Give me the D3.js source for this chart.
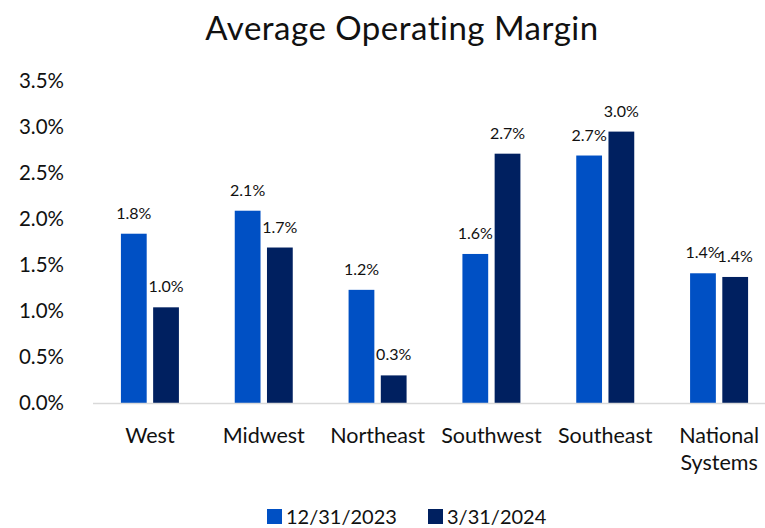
<!DOCTYPE html>
<head>
  <meta charset="utf-8">
  <style>
    body { margin: 0; background: #fff; }
    svg text { font-family: Lato, "Open Sans", sans-serif; fill: #111; }
  </style>
</head>
<body>
  <svg width=765 height=528 id="chart"></svg>
  <script src="https://d3js.org/d3.v7.min.js"></script>
  <script>
    // data
    let regions = ["West", "Midwest", "Northeast", "Southwest", "Southeast", "National Systems"];
    let seriesNames = ["12/31/2023", "3/31/2024"];
    let dec2023 = [1.84, 2.09, 1.23, 1.62, 2.69, 1.41];
    let mar2024 = [1.04, 1.69, 0.30, 2.71, 2.95, 1.37];
    let yTicks = [0, 0.5, 1, 1.5, 2, 2.5, 3, 3.5];
    let colors = ["#0050C4", "#002060"];

    let svg = d3.select("#chart");

    let x = d3.scaleBand().domain(regions).range([93, 776]);
    let xs = d3.scaleBand().domain(seriesNames).range([0, 58]).paddingInner(0.2);
    let y = d3.scaleLinear().domain([0, 3.5]).range([403, 81]);

    svg.append("text")
      .attr("x", 402).attr("y", 40)
      .attr("text-anchor", "middle")
      .style("font-size", "33px")
      .style("letter-spacing", "0.5px")
      .text("Average Operating Margin");

    // y axis labels (no line)
    svg.append("g").selectAll("text")
      .data(yTicks).enter().append("text")
      .attr("x", 64).attr("y", d => y(d))
      .attr("dy", "0.35em")
      .attr("text-anchor", "end")
      .style("font-size", "20.5px")
      .text(d => d.toFixed(1) + "%");

    let rows = regions.map((r, i) => ({region: r, vals: [dec2023[i], mar2024[i]]}));

    let grp = svg.append("g").selectAll("g")
      .data(rows).enter().append("g")
      .attr("transform", d => `translate(${x(d.region) + x.bandwidth() / 2 - 29},0)`);

    grp.selectAll("rect")
      .data(d => d.vals.map((v, k) => ({v, k})))
      .enter().append("rect")
      .attr("x", d => xs(seriesNames[d.k]))
      .attr("width", xs.bandwidth())
      .attr("y", d => y(d.v))
      .attr("height", d => y(0) - y(d.v))
      .attr("fill", d => colors[d.k]);

    grp.selectAll("text.val")
      .data(d => d.vals.map((v, k) => ({v, k})))
      .enter().append("text")
      .attr("class", "val")
      .attr("x", d => xs(seriesNames[d.k]) + xs.bandwidth() / 2)
      .attr("y", d => y(d.v) - 15)
      .attr("text-anchor", "middle")
      .style("font-size", "16px")
      .text(d => d.v.toFixed(1) + "%");

    // baseline
    svg.append("line")
      .attr("x1", 93).attr("x2", 776)
      .attr("y1", 403.5).attr("y2", 403.5)
      .attr("stroke", "#d9d9d9").attr("stroke-width", 1.5);

    // category labels
    svg.append("g").selectAll("text")
      .data(regions).enter().append("text")
      .attr("x", d => x(d) + x.bandwidth() / 2)
      .attr("y", 443)
      .attr("text-anchor", "middle")
      .style("font-size", "21.5px")
      .each(function(d) {
        let words = d.split(" ");
        d3.select(this).selectAll("tspan")
          .data(words).enter().append("tspan")
          .attr("x", x(d) + x.bandwidth() / 2)
          .attr("dy", (w, i) => i ? 27 : 0)
          .text(w => w);
      });

    // legend
    let leg = svg.append("g").selectAll("g")
      .data(seriesNames).enter().append("g")
      .attr("transform", (d, i) => `translate(${[267, 428][i]},509)`);
    leg.append("rect").attr("width", 15).attr("height", 15)
      .attr("fill", (d, i) => colors[i]);
    leg.append("text").attr("x", 19).attr("y", 8).attr("dy", "0.35em")
      .style("font-size", "20px")
      .text(d => d);
  </script>
</body>
